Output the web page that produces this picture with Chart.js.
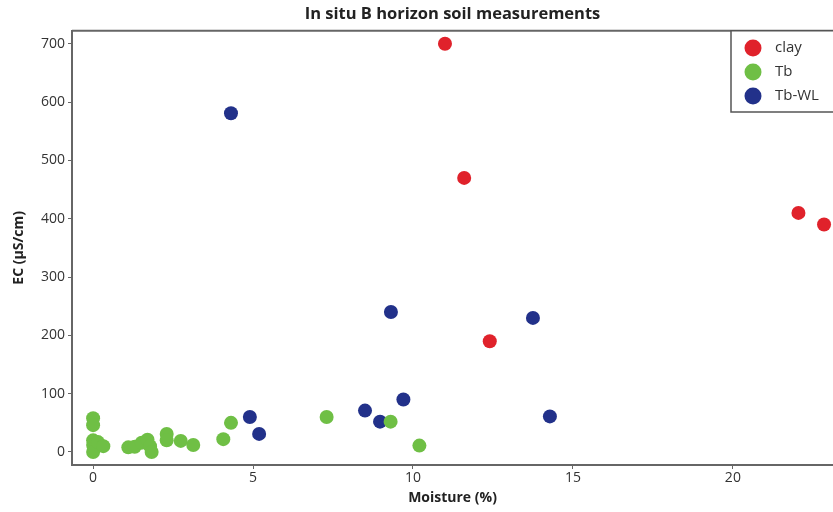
<!DOCTYPE html>
<html>
<head>
<meta charset="utf-8">
<script src="https://cdn.jsdelivr.net/npm/chart.js@4/dist/chart.umd.min.js"></script>
<style>
  html, body { margin: 0; padding: 0; background: #fff; overflow: hidden; }
  #wrap { width: 833px; height: 512px; }
</style>
</head>
<body>
<div id="wrap"><canvas id="chart"></canvas></div>
<script>
// moisture (%) / EC (µS/cm) per group
const clayMoisture = [11.0, 11.6, 12.4, 22.05, 22.85];
const clayEC = [700, 470, 190, 410, 390];

const tbMoisture = [0, 0, 0, 0, 0, 0.15, 0.32, 1.1, 1.3, 1.52, 1.7, 1.78, 1.83, 2.3, 2.3, 2.74, 3.13, 4.07, 4.31, 7.3, 9.3, 10.2];
const tbEC = [58, 46, 20, 12, 0, 17, 10, 8, 9, 16, 21, 10, 0, 31, 20, 19, 12, 22, 50, 60, 52, 11];

const tbwlMoisture = [4.31, 9.31, 4.9, 5.19, 8.5, 8.97, 9.7, 13.75, 14.28];
const tbwlEC = [581, 240, 60, 31, 71, 52, 90, 230, 61];

const xTicks = [0, 5, 10, 15, 20];
const yTicks = [0, 100, 200, 300, 400, 500, 600, 700];

const groups = ['clay', 'Tb', 'Tb-WL'];
const colors = ['#e0222b', '#6fbf45', '#22318a'];

function toPoints(xs, ys) {
    return xs.map((x, i) => ({ x: x, y: ys[i] }));
}

const axisColor = '#666';
const textColor = '#333';

// top edge of the plot frame plus the boxed legend in the upper right corner
const frameAndLegend = {
    id: 'frameAndLegend',
    afterDraw(chart) {
        const ctx = chart.ctx;
        const area = chart.chartArea;
        ctx.save();
        ctx.strokeStyle = axisColor;
        ctx.lineWidth = 2;
        ctx.beginPath();
        ctx.moveTo(area.left, area.top);
        ctx.lineTo(area.right, area.top);
        ctx.stroke();

        const boxLeft = 731, boxTop = area.top, boxBottom = 112;
        ctx.fillStyle = '#fff';
        ctx.fillRect(boxLeft, boxTop, area.right - boxLeft + 2, boxBottom - boxTop);
        ctx.strokeStyle = '#555';
        ctx.lineWidth = 1.5;
        ctx.beginPath();
        ctx.moveTo(area.right + 2, boxTop);
        ctx.lineTo(boxLeft, boxTop);
        ctx.lineTo(boxLeft, boxBottom);
        ctx.lineTo(area.right + 2, boxBottom);
        ctx.stroke();

        ctx.font = '15px "Open Sans"';
        ctx.textBaseline = 'middle';
        chart.data.datasets.forEach((ds, i) => {
            const cy = 48 + i * 24;
            ctx.fillStyle = ds.backgroundColor;
            ctx.beginPath();
            ctx.arc(753, cy, 8.5, 0, Math.PI * 2);
            ctx.fill();
            ctx.fillStyle = textColor;
            ctx.fillText(ds.label, 775, cy);
        });
        ctx.restore();
    }
};

new Chart(document.getElementById('chart').getContext('2d'), {
    type: 'scatter',
    data: {
        datasets: [
            { label: groups[0], data: toPoints(clayMoisture, clayEC) },
            { label: groups[1], data: toPoints(tbMoisture, tbEC) },
            { label: groups[2], data: toPoints(tbwlMoisture, tbwlEC) }
        ].map((ds, i) => Object.assign(ds, {
            backgroundColor: colors[i],
            borderColor: colors[i],
            pointRadius: 7,
            pointBorderWidth: 0
        }))
    },
    options: {
        responsive: true,
        maintainAspectRatio: false,
        animation: false,
        layout: { padding: 0, autoPadding: false },
        plugins: {
            legend: { display: false },
            tooltip: { enabled: false },
            title: {
                display: true,
                fullSize: false,
                text: 'In situ B horizon soil measurements',
                color: '#222',
                font: { family: 'Open Sans', size: 16.5, weight: 'bold' },
                padding: { top: 4, bottom: 7 }
            }
        },
        scales: {
            x: {
                type: 'linear',
                min: -0.66,
                max: 23.13,
                afterBuildTicks: scale => { scale.ticks = xTicks.map(v => ({ value: v })); },
                afterFit: scale => { scale.height = 47; scale.paddingLeft = 0; scale.paddingRight = 0; },
                grid: { drawOnChartArea: false, drawTicks: true, tickLength: 4, color: axisColor },
                border: { display: true, color: axisColor, width: 2 },
                ticks: { color: textColor, padding: 1, font: { family: 'Open Sans', size: 14 } },
                title: {
                    display: true,
                    text: 'Moisture (%)',
                    color: '#222',
                    font: { family: 'Open Sans', size: 14, weight: 'bold' },
                    padding: { top: 0, bottom: 6 }
                }
            },
            y: {
                type: 'linear',
                min: -22.3,
                max: 722.3,
                afterBuildTicks: scale => { scale.ticks = yTicks.map(v => ({ value: v })); },
                afterFit: scale => { scale.width = 72; scale.paddingTop = 0; scale.paddingBottom = 0; },
                grid: { drawOnChartArea: false, drawTicks: true, tickLength: 4, color: axisColor },
                border: { display: true, color: axisColor, width: 2 },
                ticks: { color: textColor, padding: 3, font: { family: 'Open Sans', size: 14 } },
                title: {
                    display: true,
                    text: 'EC (µS/cm)',
                    color: '#222',
                    font: { family: 'Open Sans', size: 14, weight: 'bold' },
                    padding: { top: 11, bottom: 0 }
                }
            }
        }
    },
    plugins: [frameAndLegend]
});
</script>
</body>
</html>
